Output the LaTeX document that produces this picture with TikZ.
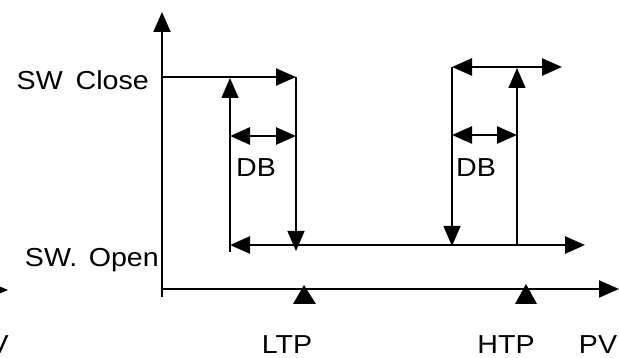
\documentclass[tikz,border=0pt]{standalone}
\usepackage{fontspec}
\usepackage{graphicx}
\setmainfont{Liberation Sans}
\usetikzlibrary{arrows.meta}
\tikzset{
  thinln/.style={line width=1.4pt},
  thickln/.style={line width=2.6pt},
  axisln/.style={line width=2pt},
  arrone/.style={-{Triangle[length=20pt,width=17pt]}},
  arrtwo/.style={{Triangle[length=20pt,width=17pt]}-{Triangle[length=20pt,width=17pt]}},
  lbl/.style={inner sep=0pt, font=\fontsize{26}{30}\selectfont},
}
\newcommand{\widetxt}[1]{\scalebox{1.1}[1]{#1}}
\begin{document}
\begin{tikzpicture}[x=1pt,y=-1pt]
\useasboundingbox[fill=white] (0,0) rectangle (619,358);
% axes
\coordinate (ybot) at (162,297);
\coordinate (ytop) at (162,12);
\coordinate (xl) at (162,289);
\coordinate (xr) at (619,289);
\draw[axisln,arrone] (ybot) -- (ytop);
\draw[axisln,arrone] (xl) -- (xr);
% markers on x axis
\fill (293,304) -- (304,285) -- (316,304) -- cycle;
\fill (515,304) -- (526,284) -- (537,304) -- cycle;
% fragments at left edge
\fill (-6,284) -- (8,290) -- (-6,296) -- cycle;
\node[lbl,anchor=base east] (vfrag) at (9,353) {\widetxt{V}};
% left hysteresis
\coordinate (c0) at (162,77);
\coordinate (c1) at (296,77);
\coordinate (d1) at (296,251);
\coordinate (u0) at (230,252);
\coordinate (u1) at (230,78);
\coordinate (db1a) at (230,136);
\coordinate (db1b) at (296,136);
\draw[axisln,arrone] (c0) -- (c1);
\draw[thinln,arrone] (c1) -- (d1);
\draw[thinln,arrone] (u0) -- (u1);
\draw[thickln,arrtwo] (db1a) -- (db1b);
% open line
\coordinate (o0) at (230,245);
\coordinate (o1) at (585,245);
\draw[thickln,arrtwo] (o0) -- (o1);
% right hysteresis
\coordinate (t0) at (452,67);
\coordinate (t1) at (562,67);
\coordinate (d2) at (452,246);
\coordinate (u2a) at (517,245);
\coordinate (u2b) at (517,68);
\coordinate (db2a) at (452,135);
\coordinate (db2b) at (517,135);
\draw[thickln,arrtwo] (t0) -- (t1);
\draw[thinln,arrone] (t0) -- (d2);
\draw[thinln,arrone] (u2a) -- (u2b);
\draw[thickln,arrtwo] (db2a) -- (db2b);
% labels
\node[lbl,anchor=base east] (close) at (149,90) {\widetxt{SW\hspace{0.45em}Close}};
\node[lbl,anchor=base east] (open) at (159,267) {\widetxt{SW.\hspace{0.4em}Open}};
\node[lbl,anchor=base] (dbl) at (256,177) {\widetxt{DB}};
\node[lbl,anchor=base] (dbr) at (476,177) {\widetxt{DB}};
\node[lbl,anchor=base] (ltp) at (287,353) {\widetxt{LTP}};
\node[lbl,anchor=base] (htp) at (506,353) {\widetxt{HTP}};
\node[lbl,anchor=base] (pv) at (598,353) {\widetxt{PV}};
\end{tikzpicture}
\end{document}
